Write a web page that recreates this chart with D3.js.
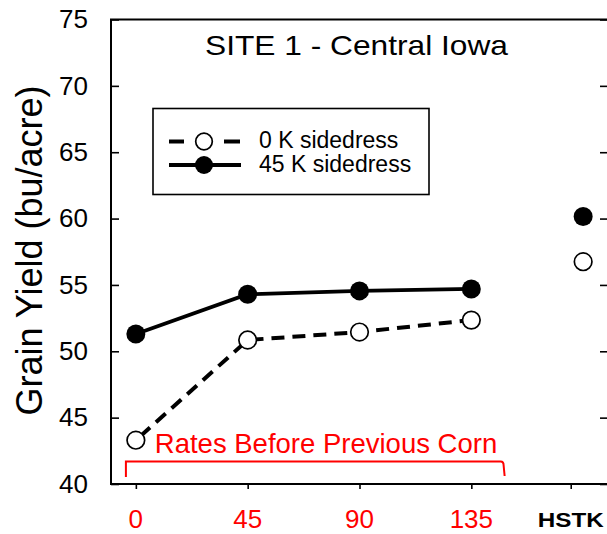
<!DOCTYPE html>
<html>
<head>
<meta charset="utf-8">
<script src="https://cdn.jsdelivr.net/npm/d3@7/dist/d3.min.js"></script>
<style>
  html, body { margin: 0; padding: 0; background: #fff; }
  svg { display: block; font-family: "Liberation Sans", Arial, sans-serif; }
</style>
</head>
<body>
<svg id="chart" width="607" height="534"></svg>
<script>
// Nitrogen rate applied before the previous corn crop (lb/acre)
const rates = [0, 45, 90, 135];
// Grain yield (bu/acre) without and with 45 lb K sidedress
const yieldNoK = [43.3, 50.85, 51.45, 52.35];
const yieldK45 = [51.3, 54.3, 54.55, 54.7];
// Reference treatment plotted to the right of the rate series
const hstkLabel = "HSTK";
const hstkNoK = 56.75;
const hstkK45 = 60.15;
const hstkX = 180;       // position of the HSTK points
const hstkTickX = 175;   // position of the HSTK tick/label
const yTicks = [40, 45, 50, 55, 60, 65, 70, 75];
const seriesNames = ["0 K sidedress", "45 K sidedress"];

const svg = d3.select("#chart");
const plot = { left: 111, right: 608, top: 19.5, bottom: 484 };

const x = d3.scaleLinear().domain([-10, 190]).range([plot.left, plot.right]);
const y = d3.scaleLinear().domain([40, 75]).range([plot.bottom, plot.top]);

// frame
svg.append("rect")
  .attr("x", plot.left).attr("y", plot.top)
  .attr("width", plot.right - plot.left).attr("height", plot.bottom - plot.top)
  .attr("fill", "none").attr("stroke", "#000").attr("stroke-width", 2);

// left axis: inward ticks
const yAxis = d3.axisLeft(y).tickValues(yTicks).tickSize(-8).tickPadding(23);
const gy = svg.append("g").attr("transform", `translate(${plot.left},0)`).call(yAxis);
gy.select(".domain").remove();
gy.selectAll(".tick line").attr("stroke-width", 1.6);
gy.selectAll(".tick text").attr("font-size", 26).attr("fill", "#000")
  .attr("font-family", "Liberation Sans, Arial, sans-serif");

// right axis: inward ticks
const yAxisR = d3.axisRight(y).tickValues(yTicks).tickSize(-7).tickFormat("");
const gyr = svg.append("g").attr("transform", `translate(${plot.right - 1},0)`).call(yAxisR);
gyr.select(".domain").remove();
gyr.selectAll(".tick line").attr("stroke-width", 1.6);

// bottom axis: outward ticks
const xAxis = d3.axisBottom(x).tickValues([...rates, hstkTickX]).tickSize(5).tickFormat("");
const gx = svg.append("g").attr("transform", `translate(0,${plot.bottom})`).call(xAxis);
gx.select(".domain").remove();
gx.selectAll(".tick line").attr("stroke-width", 1.6);

// x tick labels: rates in red, HSTK in bold black
svg.append("g").selectAll("text").data(rates).join("text")
  .attr("x", d => x(d)).attr("y", 528)
  .attr("text-anchor", "middle").attr("font-size", 26).attr("fill", "#ff0000")
  .text(d => d);
svg.append("text")
  .attr("x", x(hstkTickX)).attr("y", 527)
  .attr("text-anchor", "middle").attr("font-size", 20).attr("font-weight", "bold")
  .attr("textLength", 66).attr("lengthAdjust", "spacingAndGlyphs")
  .attr("fill", "#000").text(hstkLabel);

// y axis title
svg.append("text")
  .attr("transform", "translate(42,250.5) rotate(-90)")
  .attr("text-anchor", "middle").attr("font-size", 36).attr("fill", "#000")
  .text("Grain Yield (bu/acre)");

// title
svg.append("text")
  .attr("x", 356.5).attr("y", 55)
  .attr("text-anchor", "middle").attr("font-size", 28)
  .attr("textLength", 303).attr("lengthAdjust", "spacingAndGlyphs")
  .attr("fill", "#000")
  .text("SITE 1 - Central Iowa");

// bracket under the rate series
const bx0 = x(-4), bx1 = x(148), by = 461.5;
svg.append("path")
  .attr("d", `M${bx0},477 L${bx0},${by} L${bx1 - 3},${by} Q${bx1},${by} ${bx1},${by + 4} L${bx1 + 1},476`)
  .attr("fill", "none").attr("stroke", "#ff0000").attr("stroke-width", 2);
svg.append("text")
  .attr("x", 326).attr("y", 453)
  .attr("text-anchor", "middle").attr("font-size", 27.5).attr("fill", "#ff0000")
  .text("Rates Before Previous Corn");

// series lines
const line = d3.line().x(d => x(d[0])).y(d => y(d[1]));
const noK = rates.map((r, i) => [r, yieldNoK[i]]);
const k45 = rates.map((r, i) => [r, yieldK45[i]]);

svg.append("path").datum(k45).attr("d", line)
  .attr("fill", "none").attr("stroke", "#000").attr("stroke-width", 3.8);
svg.append("path").datum(noK).attr("d", line)
  .attr("fill", "none").attr("stroke", "#000").attr("stroke-width", 4)
  .attr("stroke-dasharray", "13,8").attr("stroke-dashoffset", -6);

// markers
const r = 9.5;
svg.append("g").selectAll("circle").data([...k45, [hstkX, hstkK45]]).join("circle")
  .attr("cx", d => x(d[0])).attr("cy", d => y(d[1])).attr("r", r)
  .attr("fill", "#000");
svg.append("g").selectAll("circle").data([...noK, [hstkX, hstkNoK]]).join("circle")
  .attr("cx", d => x(d[0])).attr("cy", d => y(d[1])).attr("r", r - 0.7)
  .attr("fill", "#fff").attr("stroke", "#000").attr("stroke-width", 1.7);

// legend
const lg = svg.append("g");
lg.append("rect").attr("x", 153).attr("y", 108.5).attr("width", 276).attr("height", 86)
  .attr("fill", "#fff").attr("stroke", "#000").attr("stroke-width", 1.6);
const rows = [
  { name: seriesNames[0], yy: 141.5, filled: false },
  { name: seriesNames[1], yy: 165, filled: true }
];
rows.forEach(d => {
  if (d.filled) {
    lg.append("line").attr("x1", 169).attr("x2", 241).attr("y1", d.yy).attr("y2", d.yy)
      .attr("stroke", "#000").attr("stroke-width", 3.8);
    lg.append("circle").attr("cx", 204).attr("cy", d.yy).attr("r", 9).attr("fill", "#000");
  } else {
    lg.append("line").attr("x1", 169).attr("x2", 184).attr("y1", d.yy).attr("y2", d.yy)
      .attr("stroke", "#000").attr("stroke-width", 4);
    lg.append("line").attr("x1", 224).attr("x2", 240).attr("y1", d.yy).attr("y2", d.yy)
      .attr("stroke", "#000").attr("stroke-width", 4);
    lg.append("circle").attr("cx", 204).attr("cy", d.yy).attr("r", 8.3)
      .attr("fill", "#fff").attr("stroke", "#000").attr("stroke-width", 1.7);
  }
  lg.append("text").attr("x", 259).attr("y", d.yy + 6.5)
    .attr("font-size", 23).attr("fill", "#000").text(d.name);
});
</script>
</body>
</html>
